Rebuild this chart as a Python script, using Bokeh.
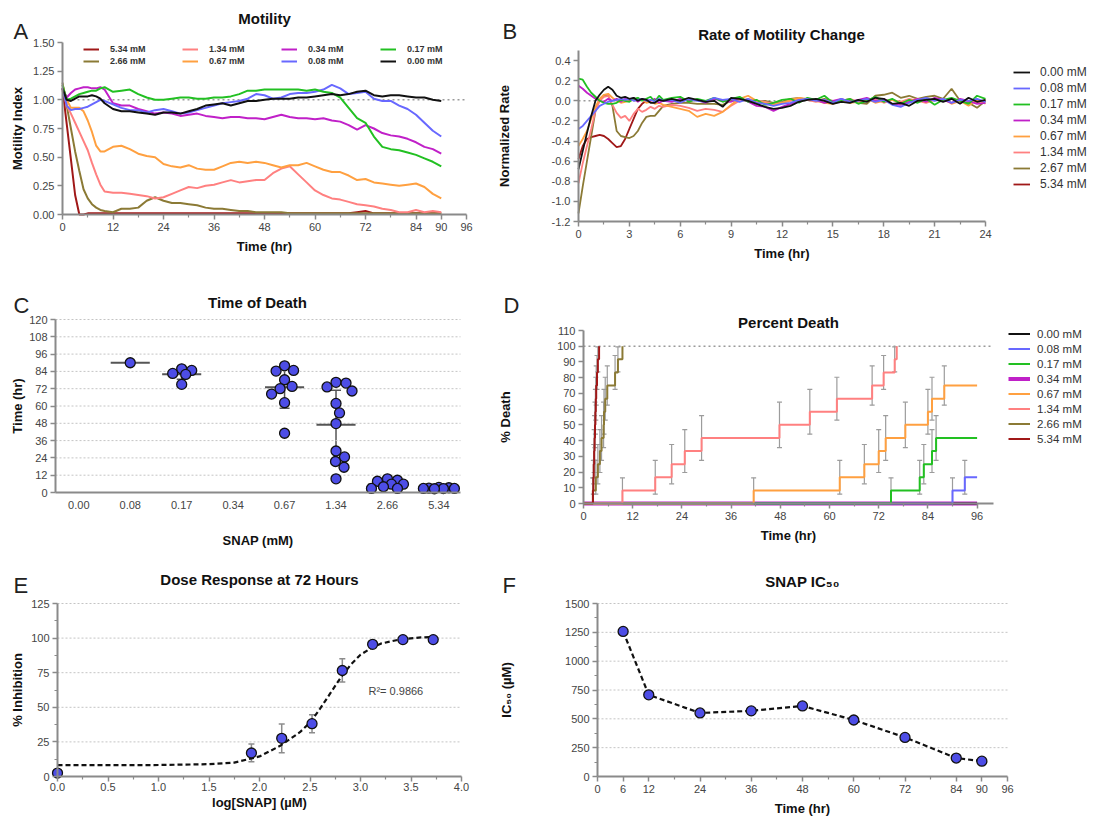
import numpy as np
from bokeh.plotting import figure
from bokeh.models import (Range1d, FixedTicker, Label, Legend, LegendItem,
                          Whisker, ColumnDataSource, TeeHead, PrintfTickFormatter)
from bokeh.layouts import row, column
from bokeh.embed import file_html
from bokeh.resources import INLINE

FONT = "Liberation Sans"
AXC = "#8a8a8a"

# ---------------- colours per concentration ----------------
col_000 = "#111111"
col_008 = "#6868ff"
col_017 = "#22c022"
col_034 = "#c020c8"
col_067 = "#ffa040"
col_134 = "#ff8080"
col_266 = "#8b7a35"
col_534 = "#a01818"

# ---------------- Panel A: Motility ----------------
tA = [0, 1, 2, 3, 4, 5, 6, 7, 8, 9, 10] + list(range(12, 91, 2))
mot_000 = [1.10, 1.00, 0.99, 1.01, 1.03, 1.03, 1.03, 1.04, 1.03, 1.01, 0.97,
           0.92, 0.90, 0.90, 0.89, 0.88, 0.87, 0.89, 0.89, 0.88, 0.90,
           0.92, 0.95, 0.96, 0.97, 0.95, 0.97, 0.99, 0.99, 1.00, 1.01,
           1.01, 1.01, 1.02, 1.02, 1.03, 1.04, 1.05, 1.04, 1.05, 1.07,
           1.08, 1.04, 1.03, 1.04, 1.04, 1.03, 1.02, 1.02, 1.00, 0.99]
mot_008 = [1.10, 0.95, 0.91, 0.92, 0.92, 0.93, 0.94, 0.96, 0.98, 1.00, 0.99,
           0.96, 0.93, 0.91, 0.91, 0.89, 0.91, 0.92, 0.90, 0.88, 0.89,
           0.91, 0.93, 0.95, 0.97, 0.98, 0.99, 1.01, 1.05, 1.04, 1.01,
           1.02, 1.05, 1.06, 1.06, 1.07, 1.09, 1.13, 1.10, 1.05, 1.06,
           1.07, 1.01, 0.99, 0.99, 0.95, 0.92, 0.87, 0.80, 0.73, 0.68]
mot_017 = [1.13, 1.00, 1.01, 1.03, 1.05, 1.06, 1.07, 1.08, 1.08, 1.10, 1.11,
           1.07, 1.08, 1.09, 1.05, 1.02, 1.00, 1.00, 1.01, 1.02, 1.02,
           1.01, 1.01, 1.02, 1.02, 1.03, 1.05, 1.08, 1.08, 1.09, 1.09,
           1.09, 1.09, 1.09, 1.08, 1.09, 1.07, 1.06, 1.02, 0.93, 0.84,
           0.80, 0.68, 0.59, 0.57, 0.56, 0.54, 0.52, 0.49, 0.46, 0.42]
mot_034 = [1.10, 1.02, 1.06, 1.09, 1.10, 1.11, 1.11, 1.10, 1.10, 1.11, 1.09,
           0.97, 0.95, 0.95, 0.92, 0.90, 0.88, 0.89, 0.88, 0.86, 0.87,
           0.88, 0.86, 0.85, 0.84, 0.85, 0.85, 0.84, 0.84, 0.83, 0.85,
           0.87, 0.85, 0.84, 0.84, 0.83, 0.84, 0.82, 0.81, 0.78, 0.74,
           0.78, 0.75, 0.71, 0.69, 0.68, 0.66, 0.63, 0.59, 0.57, 0.53]
mot_067 = [1.13, 1.00, 0.93, 0.93, 0.93, 0.90, 0.82, 0.72, 0.60, 0.55, 0.55,
           0.59, 0.60, 0.57, 0.53, 0.51, 0.50, 0.44, 0.42, 0.41, 0.43,
           0.40, 0.39, 0.39, 0.42, 0.45, 0.46, 0.45, 0.46, 0.45, 0.43,
           0.41, 0.43, 0.43, 0.45, 0.42, 0.39, 0.37, 0.37, 0.34, 0.30,
           0.31, 0.28, 0.27, 0.26, 0.25, 0.26, 0.27, 0.24, 0.18, 0.14]
mot_134 = [1.10, 0.95, 0.88, 0.80, 0.72, 0.64, 0.56, 0.45, 0.35, 0.26, 0.20,
           0.19, 0.19, 0.18, 0.17, 0.16, 0.14, 0.15, 0.18, 0.21, 0.24,
           0.23, 0.25, 0.26, 0.28, 0.30, 0.28, 0.29, 0.30, 0.30, 0.36,
           0.40, 0.42, 0.35, 0.28, 0.21, 0.17, 0.14, 0.13, 0.11, 0.09,
           0.08, 0.07, 0.05, 0.04, 0.02, 0.02, 0.04, 0.02, 0.03, 0.02]
mot_266 = [1.15, 0.95, 0.75, 0.55, 0.38, 0.22, 0.14, 0.09, 0.06, 0.04, 0.03,
           0.02, 0.05, 0.05, 0.06, 0.12, 0.15, 0.12, 0.10, 0.10, 0.09,
           0.08, 0.06, 0.05, 0.05, 0.04, 0.03, 0.03, 0.02, 0.02, 0.02,
           0.02, 0.01, 0.01, 0.01, 0.01, 0.01, 0.01, 0.01, 0.01, 0.01,
           0.01, 0.01, 0.01, 0.01, 0.01, 0.01, 0.01, 0.01, 0.01, 0.01]
mot_534 = [1.10, 0.79, 0.48, 0.17, 0.00, 0.00, 0.01, 0.01, 0.01, 0.01, 0.01,
           0.01, 0.01, 0.01, 0.01, 0.01, 0.01, 0.01, 0.01, 0.01, 0.01,
           0.01, 0.01, 0.01, 0.01, 0.01, 0.01, 0.01, 0.01, 0.01, 0.01,
           0.01, 0.01, 0.01, 0.01, 0.01, 0.01, 0.01, 0.01, 0.01, 0.02,
           0.03, 0.01, 0.01, 0.01, 0.01, 0.01, 0.01, 0.01, 0.01, 0.01]

# ---------------- Panel B: Rate of motility change ----------------
tB = [i * 0.25 for i in range(21)] + [5.5 + 0.5 * i for i in range(38)]
rate_000 = [-0.68, -0.50, -0.32, -0.15, 0.00, 0.06, 0.11, 0.14, 0.11, 0.05, 0.03, 0.04, 0.02, 0.03, 0.00, 0.02, 0.01, -0.02, -0.02, 0.01, 0.00,
            0.02, 0.00, 0.03, 0.01, -0.01, 0.00, -0.06, 0.03, 0.02, 0.00, -0.03, -0.06, -0.08, -0.07, -0.05, -0.01, 0.01, 0.02, 0.00,
            -0.03, -0.01, -0.02, 0.01, -0.01, 0.03, 0.02, -0.03, -0.02, -0.05, 0.00, 0.01, 0.02, -0.01, 0.02, -0.03, 0.03, -0.01, 0.01]
rate_008 = [-0.28, -0.25, -0.20, -0.15, -0.10, -0.05, -0.03, -0.01, 0.00, 0.01, 0.02, 0.01, 0.02, 0.00, 0.01, 0.02, 0.00, 0.01, -0.01, 0.02, 0.00,
            0.01, -0.02, 0.02, 0.00, -0.01, 0.03, 0.01, 0.02, -0.01, 0.02, -0.02, -0.03, -0.05, -0.03, -0.02, 0.01, 0.02, 0.00, 0.01,
            -0.02, 0.02, -0.01, 0.00, 0.02, -0.01, 0.01, -0.04, -0.06, -0.02, 0.01, 0.03, 0.00, 0.02, -0.02, 0.01, 0.00, 0.02, -0.01]
rate_017 = [0.22, 0.21, 0.14, 0.08, 0.04, 0.00, -0.02, -0.03, -0.03, -0.02, 0.01, 0.00, -0.01, 0.02, 0.03, 0.00, 0.02, 0.04, -0.01, 0.05, 0.01,
            0.03, 0.04, -0.01, 0.02, 0.00, 0.03, -0.01, 0.02, 0.04, -0.01, 0.01, -0.04, -0.02, 0.01, 0.02, -0.02, 0.03, 0.01, 0.05,
            -0.02, 0.00, 0.02, -0.03, 0.00, 0.04, -0.01, 0.02, -0.03, 0.01, -0.02, 0.02, -0.04, 0.01, 0.03, 0.00, -0.03, 0.05, 0.02]
rate_034 = [0.15, 0.12, 0.08, 0.05, 0.02, 0.00, -0.01, 0.02, 0.00, 0.02, -0.01, 0.02, 0.01, 0.03, -0.01, 0.02, 0.01, 0.00, 0.02, -0.02, 0.00,
            -0.01, 0.02, 0.00, 0.01, -0.02, 0.02, 0.00, -0.01, 0.03, -0.01, -0.05, -0.06, -0.10, -0.06, -0.03, 0.00, 0.02, 0.01, -0.02,
            0.00, 0.02, -0.01, 0.01, 0.03, 0.00, 0.02, -0.03, -0.04, -0.01, 0.02, -0.01, 0.03, 0.01, -0.02, 0.02, 0.00, -0.03, -0.02]
rate_067 = [-0.45, -0.38, -0.30, -0.18, -0.06, 0.02, 0.06, 0.07, 0.03, 0.00, -0.02, -0.01, 0.00, 0.01, 0.00, 0.02, -0.02, -0.01, -0.03, -0.02, -0.04,
            -0.06, -0.08, -0.10, -0.16, -0.13, -0.15, -0.11, -0.04, 0.02, 0.05, 0.00, -0.02, -0.04, -0.02, 0.01, 0.03, 0.02, 0.00, -0.02,
            -0.03, 0.00, -0.02, -0.01, 0.02, -0.02, 0.00, 0.01, -0.02, 0.00, 0.02, -0.01, 0.01, 0.02, -0.03, 0.00, -0.05, 0.01, -0.03]
rate_134 = [-0.82, -0.62, -0.45, -0.28, -0.10, 0.00, 0.04, 0.05, -0.04, -0.12, -0.17, -0.15, -0.20, -0.13, -0.08, -0.11, -0.09, -0.06, -0.08, -0.05, -0.06,
            -0.04, -0.05, -0.07, -0.10, -0.08, -0.09, -0.11, -0.05, 0.00, 0.02, 0.00, -0.01, -0.03, -0.02, 0.00, 0.02, 0.01, -0.01, 0.01,
            -0.02, 0.00, 0.02, -0.01, 0.00, 0.02, -0.02, 0.01, -0.01, 0.02, 0.00, -0.02, 0.01, 0.00, 0.02, -0.01, 0.00, -0.02, 0.01]
rate_266 = [-1.12, -0.85, -0.60, -0.35, -0.10, 0.02, 0.05, 0.05, -0.05, -0.30, -0.35, -0.36, -0.37, -0.35, -0.30, -0.22, -0.16, -0.15, -0.15, -0.10, -0.05,
            -0.03, -0.02, -0.02, -0.03, -0.03, -0.03, -0.04, 0.00, 0.01, 0.00, -0.01, 0.00, -0.02, -0.01, 0.02, 0.03, 0.01, 0.00, 0.02,
            0.00, -0.01, 0.00, -0.02, -0.03, 0.05, 0.06, 0.08, 0.03, 0.05, 0.02, 0.04, 0.05, 0.02, 0.12, 0.00, -0.02, -0.07, 0.00]
rate_534 = [-0.58, -0.45, -0.38, -0.36, -0.35, -0.34, -0.35, -0.38, -0.42, -0.46, -0.45, -0.38, -0.28, -0.18, -0.08, -0.03, 0.00]

# ---------------- Panel C: time of death ----------------
snap_labels = ["0.00", "0.08", "0.17", "0.34", "0.67", "1.34", "2.66", "5.34"]
tod_000 = []
tod_008 = [90.0]
tod_017 = [85.8, 84.7, 82.6, 81.9, 75.0]
tod_034 = []
tod_067 = [87.9, 84.7, 84.2, 78.2, 73.6, 72.0, 68.3, 62.3, 41.1]
tod_134 = [76.4, 75.9, 73.2, 70.4, 61.8, 55.2, 47.8, 28.8, 24.7, 21.5, 17.5, 9.5]
tod_266 = [9.5, 8.5, 7.8, 5.8, 5.8, 4.0, 2.8, 2.8]
tod_534 = [3.5, 3.3, 3.0, 2.8, 2.8, 2.7, 2.6]
tod_median = [None, 90.0, 82.0, None, 73.0, 47.0, 5.5, 3.0]
tod_low = [None, None, 78.5, None, 58.5, 22.0, 3.0, 2.5]
tod_high = [None, None, 86.5, None, 86.5, 71.0, 8.0, 3.5]

# ---------------- Panel D: percent death ----------------
n_subjects = 12
deaths_000 = []
deaths_008 = [90.0, 93.0]
deaths_017 = [75.0, 82.0, 83.0, 85.0, 86.0]
deaths_034 = []
deaths_067 = [41.5, 62.5, 68.5, 72.0, 73.7, 78.5, 84.0, 85.0, 88.0]
deaths_134 = [9.5, 17.5, 21.5, 24.7, 28.8, 47.8, 55.2, 61.8, 70.4, 73.2, 75.9, 76.4]
deaths_266 = [2.3, 3.0, 3.5, 4.0, 4.4, 4.9, 5.0, 5.3, 5.8, 7.7, 8.4, 9.5]
deaths_534 = [2.3, 2.4, 2.5, 2.6, 2.7, 2.8, 2.9, 3.0, 3.1, 3.3, 3.5, 3.8]
study_end = 96

# ---------------- Panel E: dose response ----------------
log_snap = [0.0, 1.92, 2.22, 2.52, 2.82, 3.12, 3.42, 3.72]
inhibition = [2.5, 17.0, 27.6, 38.2, 76.6, 95.5, 98.9, 98.9]
inhibition_err = [1.5, 6.4, 10.4, 6.5, 8.4, 2.0, 1.5, 1.5]
fit_x = [0.0, 0.5, 1.0, 1.5, 1.75, 2.0, 2.2, 2.4, 2.5, 2.6, 2.7, 2.8, 2.9, 3.0, 3.1, 3.2, 3.4, 3.6, 3.72]
fit_y = [8.2, 8.2, 8.3, 8.9, 10.0, 14.5, 22.0, 32.0, 39.0, 49.0, 60.0, 71.0, 80.5, 88.0, 92.5, 96.0, 99.2, 100.5, 100.8]
r_squared = "0.9866"

# ---------------- Panel F: IC50 over time ----------------
ic50_time = [6, 12, 24, 36, 48, 60, 72, 84, 90]
ic50_value = [1258, 708, 551, 569, 612, 490, 339, 160, 133]

# =====================================================================
# layout geometry in page pixels: figure boxes (x, y, w, h) and plot areas
FIG_A = (0, 0, 487, 262);     FR_A = (62, 42, 466, 214)
FIG_B = (487, 0, 623, 262);   FR_B = (578, 50, 985, 221)
FIG_C = (0, 262, 487, 290);   FR_C = (55, 319, 460, 492)
FIG_D = (487, 262, 623, 290); FR_D = (583, 330, 993, 503)
FIG_E = (0, 552, 487, 264);   FR_E = (57, 603, 461, 776)
FIG_F = (487, 552, 623, 264); FR_F = (597, 603, 1007, 776)


def make_fig(fig, fr, xr, yr):
    X, Y, W, H = fig
    sx = (xr[1] - xr[0]) / (fr[2] - fr[0])
    sy = (yr[1] - yr[0]) / (fr[3] - fr[1])
    x0 = xr[0] - (fr[0] - X) * sx
    x1 = xr[1] + (X + W - fr[2]) * sx
    y0 = yr[0] - (Y + H - fr[3]) * sy
    y1 = yr[1] + (fr[1] - Y) * sy
    p = figure(width=W, height=H, x_range=Range1d(x0, x1), y_range=Range1d(y0, y1),
               output_backend="svg", toolbar_location=None, tools="", min_border=0)
    p.title = None
    p.outline_line_color = None
    p.background_fill_color = "white"
    p.border_fill_color = "white"
    p.xgrid.visible = False
    p.ygrid.visible = False
    p.xaxis.fixed_location = yr[0]
    p.xaxis.bounds = xr
    p.yaxis.fixed_location = xr[0]
    p.yaxis.bounds = yr
    for ax in (p.xaxis[0], p.yaxis[0]):
        ax.axis_line_color = AXC
        ax.axis_line_width = 2
        ax.major_tick_line_color = AXC
        ax.major_tick_line_width = 1.5
        ax.minor_tick_line_color = AXC
        ax.minor_tick_line_width = 1.2
        ax.major_tick_out = 5
        ax.major_tick_in = 0
        ax.minor_tick_out = 3
        ax.minor_tick_in = 0
        ax.major_label_text_font = FONT
        ax.major_label_text_font_size = "11px"
        ax.major_label_text_color = "#444444"
        ax.axis_label_text_font = FONT
        ax.axis_label_text_font_style = "bold"
        ax.axis_label_text_font_size = "13px"
        ax.axis_label_text_color = "#111111"
        ax.major_label_standoff = 3
        ax.axis_label_standoff = 5

    def P(px, py):
        return x0 + (px - X) * sx, y1 - (py - Y) * sy
    return p, P


def text(p, P, s, px, py, size="15px", style="bold", align="center", baseline="middle", color="#111111"):
    x, y = P(px, py)
    p.add_layout(Label(x=x, y=y, text=s, text_font=FONT, text_font_size=size, text_font_style=style,
                       text_color=color, text_align=align, text_baseline=baseline))


def letter(p, P, s, px, py):
    text(p, P, s, px, py, size="22px", style="normal", align="left", baseline="alphabetic", color="#222222")


def grid_lines(p, xr, ticks):
    ys = [t for t in ticks if t != 0]
    p.segment(x0=[xr[0]] * len(ys), x1=[xr[1]] * len(ys), y0=ys, y1=ys,
              line_color="#c4c4c4", line_dash="2 2", line_width=1)


def ref_line(p, xr, yv):
    p.segment(x0=[xr[0]], x1=[xr[1]], y0=[yv], y1=[yv], line_color="#9a9a9a", line_dash="2 3", line_width=1.5)


def legend(p, items, fig, gx, top, row_h, spacing, glyph_w, standoff, size, style="normal", nrows=None, **kw):
    X, Y, W, H = fig
    n = nrows if nrows else len(items)
    height = n * row_h + (n - 1) * spacing
    leg = Legend(items=items, location=(float(gx - X), float((Y + H) - (top + height))),
                 orientation="vertical",
                 glyph_width=glyph_w, glyph_height=row_h, label_height=row_h, label_standoff=standoff,
                 spacing=spacing, padding=0, margin=0, label_text_font=FONT,
                 label_text_font_size=size, label_text_font_style=style, label_text_color="#333333",
                 border_line_color=None, background_fill_alpha=0, **kw)
    if nrows:
        leg.nrows = nrows
    p.add_layout(leg)


# ---------------- A ----------------
xrA, yrA = (0, 96), (0, 1.5)
pA, PA = make_fig(FIG_A, FR_A, xrA, yrA)
pA.xaxis.ticker = FixedTicker(ticks=[0, 12, 24, 36, 48, 60, 72, 84, 90, 96],
                              minor_ticks=[6, 18, 30, 42, 54, 66, 78])
pA.yaxis.ticker = FixedTicker(ticks=[0, 0.25, 0.5, 0.75, 1.0, 1.25, 1.5], minor_ticks=[])
pA.yaxis.formatter = PrintfTickFormatter(format="%.2f")
pA.xaxis.axis_label = "Time (hr)"
pA.yaxis.axis_label = "Motility Index"
ref_line(pA, xrA, 1.0)
seriesA = [("5.34 mM", mot_534, col_534), ("2.66 mM", mot_266, col_266), ("1.34 mM", mot_134, col_134),
           ("0.67 mM", mot_067, col_067), ("0.34 mM", mot_034, col_034), ("0.08 mM", mot_008, col_008),
           ("0.17 mM", mot_017, col_017), ("0.00 mM", mot_000, col_000)]
itemsA = []
for lab, ys, c in seriesA:
    r = pA.line(tA, ys, line_color=c, line_width=2)
    itemsA.append(LegendItem(label=lab, renderers=[r]))
legend(pA, itemsA, FIG_A, 83, 44, 10, 2, 16, 11, "9px", "bold", nrows=2, label_width=70)
text(pA, PA, "Motility", 264, 18)
letter(pA, PA, "A", 13, 31)

# ---------------- B ----------------
xrB, yrB = (0, 24), (-1.2, 0.5)
pB, PB = make_fig(FIG_B, FR_B, xrB, yrB)
pB.xaxis.ticker = FixedTicker(ticks=list(range(0, 25, 3)), minor_ticks=[1.5 + 3 * i for i in range(8)])
pB.yaxis.ticker = FixedTicker(ticks=[round(-1.2 + 0.2 * i, 1) for i in range(9)], minor_ticks=[])
pB.yaxis.formatter = PrintfTickFormatter(format="%.1f")
pB.xaxis.axis_label = "Time (hr)"
pB.yaxis.axis_label = "Normalized Rate"
pB.yaxis.axis_label_standoff = 37
ref_line(pB, xrB, 0.0)
seriesB = [("5.34 mM", rate_534, col_534), ("2.67 mM", rate_266, col_266), ("1.34 mM", rate_134, col_134),
           ("0.67 mM", rate_067, col_067), ("0.34 mM", rate_034, col_034), ("0.17 mM", rate_017, col_017),
           ("0.08 mM", rate_008, col_008), ("0.00 mM", rate_000, col_000)]
rB = {}
for lab, ys, c in seriesB:
    rB[lab] = pB.line(tB[:len(ys)], ys, line_color=c, line_width=1.8)
orderB = ["0.00 mM", "0.08 mM", "0.17 mM", "0.34 mM", "0.67 mM", "1.34 mM", "2.67 mM", "5.34 mM"]
legend(pB, [LegendItem(label=l, renderers=[rB[l]]) for l in orderB], FIG_B, 1013, 65, 14, 2, 17, 10, "12px")
text(pB, PB, "Rate of Motility Change", 781, 34)
letter(pB, PB, "B", 502, 31)

# ---------------- C ----------------
xrC, yrC = (-0.453, 7.42), (0, 120)
pC, PC = make_fig(FIG_C, FR_C, xrC, yrC)
pC.xaxis.ticker = FixedTicker(ticks=list(range(8)), minor_ticks=[])
pC.xaxis.major_label_overrides = {i: s for i, s in enumerate(snap_labels)}
pC.xaxis.major_tick_line_color = None
pC.xaxis.axis_label_standoff = 21
pC.yaxis.ticker = FixedTicker(ticks=list(range(0, 121, 12)), minor_ticks=[])
pC.yaxis.axis_label_standoff = 1
pC.xaxis.axis_label = "SNAP (mM)"
pC.yaxis.axis_label = "Time (hr)"
grid_lines(pC, xrC, list(range(0, 121, 12)))

px_per_x = (FR_C[2] - FR_C[0]) / (xrC[1] - xrC[0])
px_per_y = (FR_C[3] - FR_C[1]) / (yrC[1] - yrC[0])


def swarm(vals, diam=10.0, max_shift=16.0):
    """beeswarm: smallest horizontal shift (px) keeping circles apart, limited to max_shift;
    if no free slot exists, the slot with the largest clearance is used"""
    placed, offs = [], []
    cands = [0.0]
    i = 1
    while 0.5 * i <= max_shift:
        cands += [0.5 * i, -0.5 * i]
        i += 1
    for v in vals:
        vy = v * px_per_y
        best, best_d = 0.0, -1.0
        for dx in cands:
            dmin = min([np.hypot(dx - qx, vy - qy) for qx, qy in placed] + [1e9])
            if dmin >= diam:
                best = dx
                break
            if dmin > best_d + 0.5:
                best, best_d = dx, dmin
        placed.append((best, vy))
        offs.append(best / px_per_x)
    return offs


groupsC = [tod_000, tod_008, tod_017, tod_034, tod_067, tod_134, tod_266, tod_534]
cx, cy = [], []
for gi, vals in enumerate(groupsC):
    for off, v in zip(swarm(vals), vals):
        cx.append(gi + off)
        cy.append(v)

med_idx = [i for i, m in enumerate(tod_median) if m is not None]
half = 0.38
pC.segment(x0=[i - half for i in med_idx], x1=[i + half for i in med_idx],
           y0=[tod_median[i] for i in med_idx], y1=[tod_median[i] for i in med_idx],
           line_color="#555555", line_width=2)
pC.scatter(cx, cy, marker="circle", size=10, fill_color="#4d4de6", line_color="#111111", line_width=1.3)
err_idx = [i for i, m in enumerate(tod_low) if m is not None]
srcC = ColumnDataSource(data=dict(base=err_idx, lower=[tod_low[i] for i in err_idx],
                                  upper=[tod_high[i] for i in err_idx]))
pC.add_layout(Whisker(source=srcC, base="base", lower="lower", upper="upper",
                      line_color="#555555", line_width=1.5,
                      upper_head=TeeHead(size=10, line_color="#555555", line_width=1.5),
                      lower_head=TeeHead(size=10, line_color="#555555", line_width=1.5)))
text(pC, PC, "Time of Death", 257, 302)
letter(pC, PC, "C", 13, 305)

# ---------------- D ----------------
xrD, yrD = (0, 100), (0, 110)
pD, PD = make_fig(FIG_D, FR_D, xrD, yrD)
pD.xaxis.ticker = FixedTicker(ticks=list(range(0, 97, 12)), minor_ticks=list(range(6, 97, 12)))
pD.yaxis.ticker = FixedTicker(ticks=list(range(0, 111, 10)), minor_ticks=[])
pD.xaxis.axis_label = "Time (hr)"
pD.yaxis.axis_label = "% Death"
pD.yaxis.axis_label_standoff = 41
ref_line(pD, xrD, 100)

seriesD = [("0.34 mM", deaths_034, col_034, 4), ("0.00 mM", deaths_000, col_000, 2),
           ("0.08 mM", deaths_008, col_008, 2), ("0.17 mM", deaths_017, col_017, 2),
           ("0.67 mM", deaths_067, col_067, 2), ("1.34 mM", deaths_134, col_134, 2),
           ("2.66 mM", deaths_266, col_266, 2), ("5.34 mM", deaths_534, col_534, 2)]
eb, el, eu = [], [], []
curves = {}
for lab, times, c, lw in seriesD:
    pct = [100.0 * (k + 1) / n_subjects for k in range(len(times))]
    xs = [0] + list(times)
    ys = [0] + pct
    if not pct or pct[-1] < 100:
        xs.append(study_end)
        ys.append(ys[-1])
    for t, pc in zip(times, pct):
        pr = pc / 100.0
        se = 100.0 * np.sqrt(pr * (1 - pr) / n_subjects)
        if se > 0:
            eb.append(t)
            el.append(pc - se)
            eu.append(pc + se)
    curves[lab] = (xs, ys, c, lw)

srcD = ColumnDataSource(data=dict(base=eb, lower=el, upper=eu))
pD.add_layout(Whisker(source=srcD, base="base", lower="lower", upper="upper", level="underlay",
                      line_color="#9c9c9c", line_width=1.2,
                      upper_head=TeeHead(size=5, line_color="#9c9c9c", line_width=1.2),
                      lower_head=TeeHead(size=5, line_color="#9c9c9c", line_width=1.2)))
rendD = {}
for lab, times, c, lw in seriesD:
    xs, ys, c, lw = curves[lab]
    rendD[lab] = pD.step(xs, ys, mode="after", line_color=c, line_width=lw)
orderD = ["0.00 mM", "0.08 mM", "0.17 mM", "0.34 mM", "0.67 mM", "1.34 mM", "2.66 mM", "5.34 mM"]
legend(pD, [LegendItem(label=l, renderers=[rendD[l]]) for l in orderD], FIG_D, 1008, 327, 13, 2, 22, 7, "11.5px")
text(pD, PD, "Percent Death", 788, 322)
letter(pD, PD, "D", 503, 305)

# ---------------- E ----------------
xrE, yrE = (0, 4.0), (0, 125)
pE, PE = make_fig(FIG_E, FR_E, xrE, yrE)
pE.xaxis.ticker = FixedTicker(ticks=[0.5 * i for i in range(9)], minor_ticks=[0.25 + 0.5 * i for i in range(8)])
pE.xaxis.formatter = PrintfTickFormatter(format="%.1f")
pE.yaxis.ticker = FixedTicker(ticks=list(range(0, 126, 25)), minor_ticks=[12.5 + 25 * i for i in range(5)])
pE.xaxis.axis_label = "log[SNAP] (\u00b5M)"
pE.yaxis.axis_label = "% Inhibition"
pE.xaxis.major_label_standoff = 1
pE.xaxis.axis_label_standoff = 1
pE.yaxis.axis_label_standoff = 3
grid_lines(pE, xrE, list(range(0, 126, 25)))
srcE = ColumnDataSource(data=dict(base=log_snap,
                                  lower=[v - e for v, e in zip(inhibition, inhibition_err)],
                                  upper=[v + e for v, e in zip(inhibition, inhibition_err)]))
pE.add_layout(Whisker(source=srcE, base="base", lower="lower", upper="upper", level="underlay",
                      line_color="#8c8c8c", line_width=1.5,
                      upper_head=TeeHead(size=6, line_color="#8c8c8c", line_width=1.5),
                      lower_head=TeeHead(size=6, line_color="#8c8c8c", line_width=1.5)))
pE.line(fit_x, fit_y, line_color="#111111", line_width=2.2, line_dash="5 3")
pE.scatter(log_snap, inhibition, marker="circle", size=10, fill_color="#4d4de6",
           line_color="#111111", line_width=1.3)
text(pE, PE, "R\u00b2= " + r_squared, 368, 690, size="11px", style="normal", align="left", color="#444444")
text(pE, PE, "Dose Response at 72 Hours", 259, 579)
letter(pE, PE, "E", 13, 585)

# ---------------- F ----------------
xrF, yrF = (0, 96), (0, 1500)
pF, PF = make_fig(FIG_F, FR_F, xrF, yrF)
pF.xaxis.ticker = FixedTicker(ticks=[0, 6, 12, 24, 36, 48, 60, 72, 84, 90, 96],
                              minor_ticks=[18, 30, 42, 54, 66, 78])
pF.yaxis.ticker = FixedTicker(ticks=list(range(0, 1501, 250)), minor_ticks=[125 + 250 * i for i in range(6)])
pF.xaxis.axis_label = "Time (hr)"
pF.yaxis.axis_label = "IC\u2085\u2080 (\u00b5M)"
pF.yaxis.axis_label_standoff = 48
grid_lines(pF, xrF, list(range(0, 1501, 250)))
pF.line(ic50_time, ic50_value, line_color="#111111", line_width=2.2, line_dash="5 3")
pF.scatter(ic50_time, ic50_value, marker="circle", size=10, fill_color="#4d4de6",
           line_color="#111111", line_width=1.3)
text(pF, PF, "SNAP IC\u2085\u2080", 802, 581)
letter(pF, PF, "F", 502, 585)

layout = column(row(pA, pB), row(pC, pD), row(pE, pF))
open("out.html", "w").write(file_html(layout, INLINE))
